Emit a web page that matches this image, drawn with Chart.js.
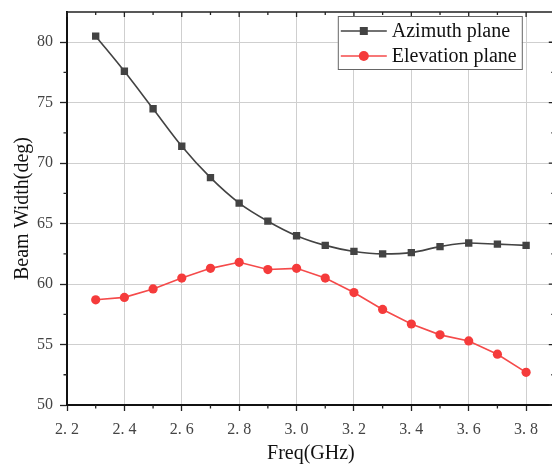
<!DOCTYPE html>
<html>
<head>
<meta charset="utf-8">
<script src="https://cdn.jsdelivr.net/npm/chart.js@4.4.1/dist/chart.umd.min.js"></script>
<style>
html,body{margin:0;padding:0;background:#fff;overflow:hidden;width:552px;height:468px;}
#wrap{width:560px;height:468px;}
</style>
</head>
<body>
<div id="wrap"><canvas id="c" width="560" height="468"></canvas></div>
<script>
const freq = [2.3, 2.4, 2.5, 2.6, 2.7, 2.8, 2.9, 3.0, 3.1, 3.2, 3.3, 3.4, 3.5, 3.6, 3.7, 3.8];
const azimuth = [80.5, 77.6, 74.5, 71.4, 68.8, 66.7, 65.2, 64.0, 63.2, 62.7, 62.5, 62.6, 63.1, 63.4, 63.3, 63.2];
const elevation = [58.7, 58.9, 59.6, 60.5, 61.3, 61.8, 61.2, 61.3, 60.5, 59.3, 57.9, 56.7, 55.8, 55.3, 54.2, 52.7];
const xTicks = [2.2, 2.4, 2.6, 2.8, 3.0, 3.2, 3.4, 3.6, 3.8];
const xMinorTicks = [2.3, 2.5, 2.7, 2.9, 3.1, 3.3, 3.5, 3.7, 3.9];
const yTicks = [50, 55, 60, 65, 70, 75, 80];
const yMinorTicks = [52.5, 57.5, 62.5, 67.5, 72.5, 77.5];
const seriesNames = ['Azimuth plane', 'Elevation plane'];
const xTitle = 'Freq(GHz)';
const yTitle = 'Beam Width(deg)';

const SERIF = '"Liberation Serif", "Times New Roman", serif';
const GRAY = '#434343';
const RED = '#f53b3b';

const framePlugin = {
  id: 'frame',
  afterDatasetsDraw(chart) {
    const {ctx, chartArea: a, scales: {x, y}} = chart;
    ctx.save();
    ctx.strokeStyle = '#222';
    ctx.lineWidth = 1.5;
    ctx.beginPath();
    ctx.moveTo(a.left, a.top); ctx.lineTo(a.right, a.top);
    ctx.moveTo(a.right, a.top); ctx.lineTo(a.right, a.bottom);
    ctx.stroke();
    ctx.lineWidth = 1.3;
    ctx.beginPath();
    xTicks.forEach(v => { const px = x.getPixelForValue(v); ctx.moveTo(px, a.top); ctx.lineTo(px, a.top + 5); });
    xMinorTicks.forEach(v => { const px = x.getPixelForValue(v); ctx.moveTo(px, a.top); ctx.lineTo(px, a.top + 3); });
    xMinorTicks.forEach(v => { const px = x.getPixelForValue(v); ctx.moveTo(px, a.bottom); ctx.lineTo(px, a.bottom + 3.5); });
    yMinorTicks.forEach(v => { const py = y.getPixelForValue(v); ctx.moveTo(a.left, py); ctx.lineTo(a.left - 3.5, py); });
    yTicks.forEach(v => { const py = y.getPixelForValue(v); ctx.moveTo(a.right, py); ctx.lineTo(a.right - 6, py); });
    yMinorTicks.forEach(v => { const py = y.getPixelForValue(v); ctx.moveTo(a.right, py); ctx.lineTo(a.right - 3.5, py); });
    ctx.stroke();
    ctx.restore();
  }
};

const legendPlugin = {
  id: 'boxLegend',
  afterDraw(chart) {
    const {ctx, chartArea: a} = chart;
    const bx = a.right - 217, by = a.top + 4, bw = 184, bh = 53;
    ctx.save();
    ctx.fillStyle = '#fff';
    ctx.fillRect(bx, by, bw, bh);
    ctx.strokeStyle = '#666';
    ctx.lineWidth = 1;
    ctx.strokeRect(bx + 0.5, by + 0.5, bw, bh);
    chart.data.datasets.forEach((ds, i) => {
      const cy = by + 15 + i * 25;
      const x0 = bx + 3, x1 = bx + 49, mx = (x0 + x1) / 2;
      ctx.strokeStyle = ds.borderColor;
      ctx.lineWidth = 1.6;
      ctx.beginPath(); ctx.moveTo(x0, cy); ctx.lineTo(x1, cy); ctx.stroke();
      ctx.fillStyle = ds.pointBackgroundColor;
      if (ds.pointStyle === 'rect') {
        ctx.fillRect(mx - 4, cy - 4, 8, 8);
      } else {
        ctx.beginPath(); ctx.arc(mx, cy, 5, 0, Math.PI * 2); ctx.fill();
      }
      ctx.fillStyle = '#111';
      ctx.font = '20px ' + SERIF;
      ctx.textBaseline = 'middle';
      ctx.textAlign = 'left';
      ctx.fillText(ds.label, bx + 54, cy + 1);
    });
    ctx.restore();
  }
};

new Chart(document.getElementById('c'), {
  type: 'line',
  data: {
    datasets: [
      {
        label: seriesNames[0],
        data: freq.map((f, i) => ({x: f, y: azimuth[i]})),
        borderColor: GRAY,
        backgroundColor: GRAY,
        pointBackgroundColor: GRAY,
        pointBorderColor: GRAY,
        pointStyle: 'rect',
        pointRadius: 5.2,
        borderWidth: 1.6,
        pointBorderWidth: 0,
        tension: 0.35,
        cubicInterpolationMode: 'monotone'
      },
      {
        label: seriesNames[1],
        data: freq.map((f, i) => ({x: f, y: elevation[i]})),
        borderColor: '#f54a4a',
        backgroundColor: RED,
        pointBackgroundColor: RED,
        pointBorderColor: RED,
        pointStyle: 'circle',
        pointRadius: 4.6,
        borderWidth: 1.6,
        pointBorderWidth: 0,
        tension: 0
      }
    ]
  },
  options: {
    responsive: false,
    animation: false,
    layout: {padding: {top: 12, right: 5, left: 0, bottom: 0}},
    plugins: {legend: {display: false}, tooltip: {enabled: false}},
    scales: {
      x: {
        type: 'linear',
        min: 2.2,
        max: 3.9,
        afterBuildTicks: s => { s.ticks = xTicks.map(v => ({value: v})); },
        afterFit: s => { s.height = 63; s.paddingLeft = 0; s.paddingRight = 0; },
        ticks: {
          autoSkip: false,
          maxRotation: 0,
          padding: 9,
          color: '#444',
          font: {family: SERIF, size: 16},
          callback: v => v.toFixed(1).replace('.', '. ')
        },
        grid: {color: '#cfcfcf', lineWidth: 1, tickColor: '#222', tickLength: 6, tickWidth: 1.3},
        border: {color: '#111', width: 2},
        title: {display: true, text: xTitle, color: '#111', font: {family: SERIF, size: 20}, padding: {top: 0, bottom: 2}}
      },
      y: {
        type: 'linear',
        min: 50,
        max: 82.5,
        afterBuildTicks: s => { s.ticks = yTicks.map(v => ({value: v})); },
        afterFit: s => { s.width = 67; s.paddingTop = 0; s.paddingBottom = 0; },
        ticks: {
          padding: 7,
          color: '#444',
          font: {family: SERIF, size: 16}
        },
        grid: {color: '#cfcfcf', lineWidth: 1, tickColor: '#222', tickLength: 7, tickWidth: 1.3},
        border: {color: '#111', width: 2},
        title: {display: true, text: yTitle, color: '#111', font: {family: SERIF, size: 20}, padding: {top: 11, bottom: 0}}
      }
    }
  },
  plugins: [framePlugin, legendPlugin]
});
</script>
</body>
</html>
